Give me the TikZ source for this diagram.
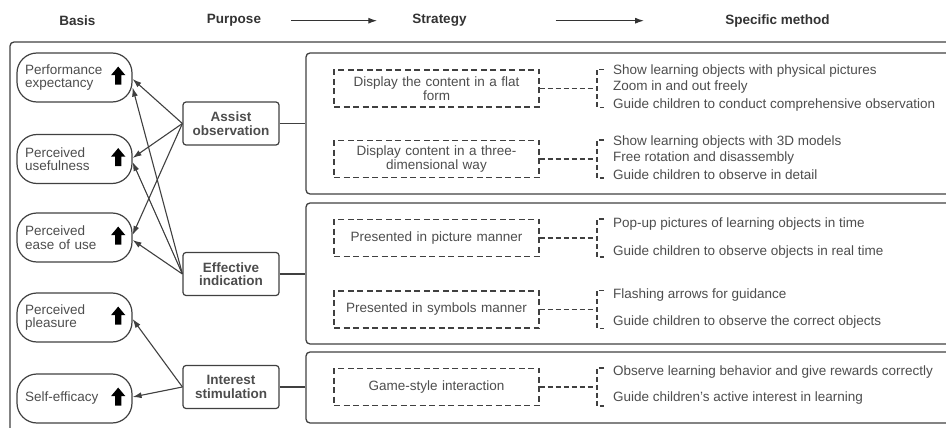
\documentclass[tikz,border=0pt]{standalone}
\usepackage{fontspec}
\setmainfont{Liberation Sans}
\usetikzlibrary{shapes,arrows,arrows.meta,positioning}
\definecolor{linegray}{HTML}{404040}
\definecolor{textgray}{HTML}{4D4D4D}
\definecolor{headgray}{HTML}{333333}
\newcommand{\bodyfont}{\fontsize{13.5}{13.6}\selectfont}
\tikzstyle{head} = [inner sep=0pt, text=headgray, font=\bodyfont\bfseries]
\tikzstyle{basis} = [rectangle, draw=linegray, line width=1.2pt, rounded corners=20pt, minimum width=115pt, minimum height=49pt, text width=99pt, inner xsep=8pt, align=left, text=textgray, font=\bodyfont]
\tikzstyle{uparrow} = [single arrow, fill=black, inner xsep=3pt, inner ysep=0pt, minimum height=18pt, single arrow head extend=4pt, single arrow head indent=0pt, single arrow tip angle=80, shape border rotate=90]
\tikzstyle{purpose} = [rectangle, draw=linegray, line width=1.2pt, rounded corners=3pt, minimum width=96pt, minimum height=43pt, align=center, text=textgray, font=\bodyfont\bfseries]
\tikzstyle{group} = [rectangle, draw=linegray, line width=1.3pt, rounded corners=4pt, minimum width=654pt]
\tikzstyle{strategy} = [rectangle, draw=linegray, line width=1.3pt, dash pattern=on 6pt off 3.5pt, minimum width=205pt, minimum height=37pt, text width=190pt, align=center, text=textgray, font=\bodyfont]
\tikzstyle{method} = [anchor=west, inner sep=0pt, text=textgray, font=\bodyfont]
\tikzstyle{line} = [draw=linegray, line width=1.1pt, -{Latex[length=9pt, width=6pt]}]
\tikzstyle{conn} = [draw=linegray, line width=1.2pt]
\tikzstyle{dline} = [draw=linegray, line width=1.4pt, dash pattern=on 5pt off 3pt]

\begin{document}
\begin{tikzpicture}[x=1pt, y=-1pt]
    \useasboundingbox (0,0) rectangle (946,428);
    % Headings
    \node [head] (hbasis) at (77.5,20.7) {Basis};
    \node [head] (hpurpose) at (234,20.7) {Purpose};
    \node [head] (hstrategy) at (439.5,20.7) {Strategy};
    \node [head] (hmethod) at (777.5,20.7) {Specific method};
    \path [line, draw=headgray, line width=1.3pt, shorten <=30pt, shorten >=35pt] (hpurpose.east) -- (hstrategy.west);
    \path [line, draw=headgray, line width=1.3pt, shorten <=89pt, shorten >=81pt] (hstrategy.east) -- (hmethod.west);

    % Outer frame
    \draw [conn, line width=1.3pt, rounded corners=4pt] (10,42) rectangle (960,436);

    % Basis
    \node [basis] (perf) at (74.5,77.5) {Performance\\expectancy};
    \node [basis] (useful) at (74.5,159) {Perceived\\usefulness};
    \node [basis] (ease) at (74.5,237.5) {Perceived\\ease of use};
    \node [basis] (pleasure) at (74.5,317.5) {Perceived\\pleasure};
    \node [basis] (selfeff) at (74.5,398.5) {Self-efficacy};
    \node [uparrow, left=11pt of perf.east] (perfup) {};
    \node [uparrow, left=11pt of useful.east] (usefulup) {};
    \node [uparrow, left=11pt of ease.east] (easeup) {};
    \node [uparrow, left=11pt of pleasure.east] (pleasureup) {};
    \node [uparrow, left=11pt of selfeff.east] (selfeffup) {};

    % Purpose
    \node [purpose] (assist) at (231,123.5) {Assist\\observation};
    \node [purpose] (effective) at (231,274) {Effective\\indication};
    \node [purpose] (interest) at (231,387) {Interest\\stimulation};

    \path [line] (assist.west) -- ([yshift=-1.5pt]perf.east);
    \path [line] (assist.west) -- ([yshift=1pt]useful.east);
    \path [line] (assist.west) -- ([yshift=2.5pt]ease.east);
    \path [line] (effective.west) -- ([yshift=-10pt]perf.east);
    \path [line] (effective.west) -- ([yshift=-3pt]useful.east);
    \path [line] (effective.west) -- ([yshift=-2.5pt]ease.east);
    \path [line] (interest.west) -- ([yshift=-1.5pt]pleasure.east);
    \path [line] (interest.west) -- ([yshift=1.5pt]selfeff.east);

    % Groups
    \node [group, minimum height=141pt] (g1) at (633,123.5) {};
    \node [group, minimum height=141pt] (g2) at (633,273.5) {};
    \node [group, minimum height=71pt] (g3) at (633,387.5) {};
    \draw [conn] (assist.east) -- (assist.east -| g1.west);
    \draw [conn] (effective.east) -- (effective.east -| g2.west);
    \draw [conn] (interest.east) -- (interest.east -| g3.west);

    % Strategy
    \node [strategy] (flat) at (436.5,88.5) {Display the content in a flat\\form};
    \node [strategy] (threed) at (436.5,159) {Display content in a three-\\dimensional way};
    \node [strategy] (picture) at (436.5,238) {Presented in picture manner};
    \node [strategy] (symbols) at (436.5,309.5) {Presented in symbols manner};
    \node [strategy] (game) at (436.5,387) {Game-style interaction};

    \coordinate (kflat) at (597,88.5);
    \coordinate (kthreed) at (597,159);
    \coordinate (kpicture) at (597,238);
    \coordinate (ksymbols) at (597,309.5);
    \coordinate (kgame) at (597,387);
    \draw [dline] (flat.east) -- (kflat);
    \draw [dline] (threed.east) -- (kthreed);
    \draw [dline] (picture.east) -- (kpicture);
    \draw [dline] (symbols.east) -- (ksymbols);
    \draw [dline] (game.east) -- (kgame);
    \draw [dline] (flat.north -| kflat) ++(7,0) -- ++(-7,0) -- (flat.south -| kflat) -- ++(7,0);
    \draw [dline] (threed.north -| kthreed) ++(7,0) -- ++(-7,0) -- (threed.south -| kthreed) -- ++(7,0);
    \draw [dline] (picture.north -| kpicture) ++(7,0) -- ++(-7,0) -- (picture.south -| kpicture) -- ++(7,0);
    \draw [dline] (symbols.north -| ksymbols) ++(7,0) -- ++(-7,0) -- (symbols.south -| ksymbols) -- ++(7,0);
    \draw [dline] (game.north -| kgame) ++(7,0) -- ++(-7,0) -- (game.south -| kgame) -- ++(7,0);

    % Specific methods
    \node [method] (m11) at (613,71) {Show learning objects with physical pictures};
    \node [method] (m12) at (613,87) {Zoom in and out freely};
    \node [method] (m13) at (613,105) {Guide children to conduct comprehensive observation};
    \node [method] (m21) at (613,142) {Show learning objects with 3D models};
    \node [method] (m22) at (613,158) {Free rotation and disassembly};
    \node [method] (m23) at (613,175) {Guide children to observe in detail};
    \node [method] (m31) at (613,224) {Pop-up pictures of learning objects in time};
    \node [method] (m32) at (613,252) {Guide children to observe objects in real time};
    \node [method] (m41) at (613,295) {Flashing arrows for guidance};
    \node [method] (m42) at (613,322) {Guide children to observe the correct objects};
    \node [method] (m51) at (613,372) {Observe learning behavior and give rewards correctly};
    \node [method] (m52) at (613,398) {Guide children's active interest in learning};
\end{tikzpicture}
\end{document}
